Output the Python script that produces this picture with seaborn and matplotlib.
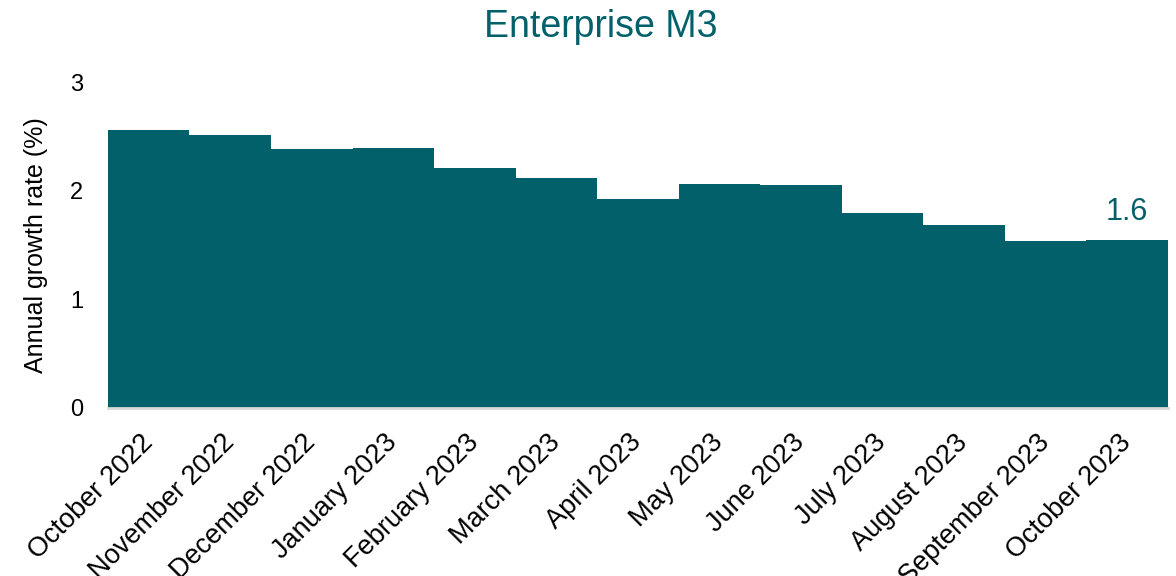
import pandas as pd
import matplotlib.pyplot as plt
import seaborn as sns

months = ["October 2022", "November 2022", "December 2022", "January 2023",
          "February 2023", "March 2023", "April 2023", "May 2023", "June 2023",
          "July 2023", "August 2023", "September 2023", "October 2023"]
growth = [2.56, 2.51, 2.38, 2.39, 2.21, 2.12, 1.92, 2.06, 2.05, 1.79, 1.68, 1.54, 1.55]
last_label = "1.6"

TEAL = "#02606A"


def main():
    sns.set_theme(style="white")
    plt.rcParams['font.family'] = ['Liberation Sans', 'DejaVu Sans']

    df = pd.DataFrame({'month': months, 'growth': growth})

    fig = plt.figure(figsize=(11.76, 5.76), dpi=100)
    ax = fig.add_axes([0.0918, 0.2917, 0.9012, 0.5659])
    sns.barplot(data=df, x='month', y='growth', color=TEAL, width=1.0,
                saturation=1, linewidth=0, ax=ax)

    ax.set_xlim(-0.5, len(months) - 0.5)
    ax.set_ylim(0, 3)
    ax.set_yticks([0, 1, 2, 3])
    ax.set_xlabel('')
    ax.set_ylabel('Annual growth rate (%)', fontsize=18, labelpad=16, color='black')
    ax.tick_params(axis='y', length=0, labelsize=17, pad=18, labelcolor='black')
    ax.tick_params(axis='x', length=0, labelsize=19.5, pad=22, labelcolor='black')
    plt.setp(ax.get_xticklabels(), rotation=45, ha='right', va='center',
             rotation_mode='anchor')

    for side in ['top', 'right', 'left']:
        ax.spines[side].set_visible(False)
    ax.spines['bottom'].set_color('#D9D9D9')
    ax.spines['bottom'].set_linewidth(2)

    ax.text(len(months) - 1, growth[-1] + 0.18, last_label, color=TEAL,
            fontsize=22, ha='center', va='baseline')

    fig.suptitle('Enterprise M3', x=0.511, y=0.985, color=TEAL, fontsize=27,
                 va='top')

    fig.savefig('out.png', dpi=100)


if __name__ == "__main__":
    main()
